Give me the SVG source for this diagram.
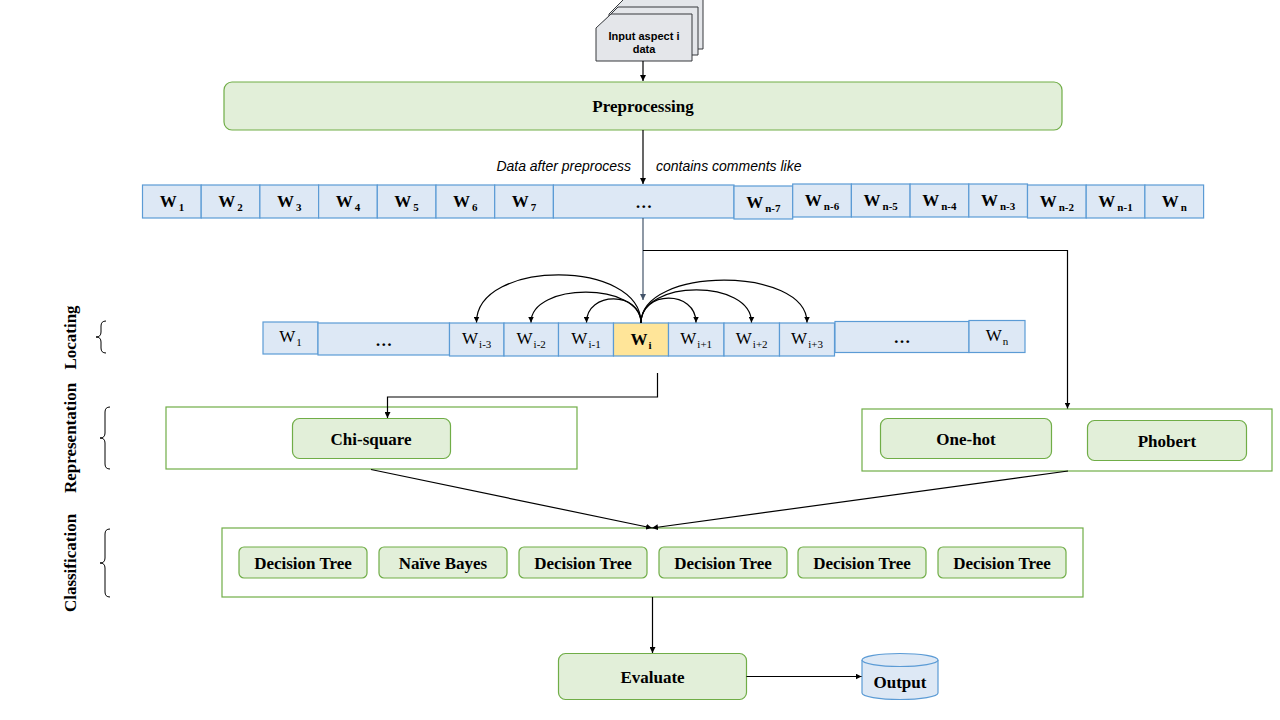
<svg xmlns="http://www.w3.org/2000/svg" width="1280" height="720" viewBox="0 0 1280 720">
<style>
.bg{fill:#ffffff}
.doc{fill:#e4e6ea;stroke:#36393d;stroke-width:1}
.green{fill:#e2efd9;stroke:#70ad47;stroke-width:1.2}
.cont{fill:#ffffff;stroke:#70ad47;stroke-width:1.2}
.cell{fill:#dde8f5;stroke:#5b9bd5;stroke-width:1.2}
.hl{fill:#ffe599;stroke:#5b9bd5;stroke-width:1.2}
.t{font-family:"Liberation Serif","Times New Roman",serif;font-weight:bold;font-size:17px;fill:#000;text-anchor:middle}
.wb{font-family:"Liberation Serif","Times New Roman",serif;font-weight:bold;font-size:17px;fill:#000;text-anchor:middle}
.wn{font-family:"Liberation Serif","Times New Roman",serif;font-weight:normal;font-size:17px;fill:#000;text-anchor:middle}
.sub{font-size:11px}
.it{font-family:"Liberation Sans",Arial,sans-serif;font-style:italic;font-size:14px;fill:#000}
.dt{font-family:"Liberation Sans",Arial,sans-serif;font-weight:bold;font-size:11px;fill:#000;text-anchor:middle}
.lab{font-family:"Liberation Serif","Times New Roman",serif;font-weight:bold;font-size:17px;fill:#000;text-anchor:middle}
.ln{fill:none;stroke:#000;stroke-width:1.2}
.lnb{fill:none;stroke:#44546a;stroke-width:1.2}
.br{fill:none;stroke:#000;stroke-width:1}
</style>
<defs>
<marker id="ah" viewBox="0 0 10 10" refX="10" refY="5" markerWidth="6" markerHeight="6" markerUnits="userSpaceOnUse" orient="auto">
<path d="M0,0 L10,5 L0,10 Z" fill="#000"/>
</marker>
<marker id="ahb" viewBox="0 0 10 10" refX="10" refY="5" markerWidth="6" markerHeight="6" markerUnits="userSpaceOnUse" orient="auto">
<path d="M0,0 L10,5 L0,10 Z" fill="#44546a"/>
</marker>
</defs>
<rect class="bg" x="0" y="0" width="1280" height="720"/>

<g id="input">
<path class="doc" d="M624,-1 L703,-1 L703,49 L609,49 L609,14 Z"/>
<path class="doc" d="M618,7 L698,7 L698,55 L603,55 L603,22 Z"/>
<path class="doc" d="M611,14 L692,14 L692,61 L596,61 L596,28 Z"/>
<text class="dt" x="644" y="40">Input aspect i</text>
<text class="dt" x="644" y="53">data</text>
</g>

<g id="preprocessing">
<rect class="green" x="224" y="82" width="838" height="48" rx="8"/>
<text class="t" x="643" y="112">Preprocessing</text>
</g>

<g id="labels-data">
<text class="it" x="631" y="171" text-anchor="end">Data after preprocess</text>
<text class="it" x="656" y="171">contains comments like</text>
</g>

<g id="word-row">
<rect class="cell" x="142.5" y="185" width="58.7" height="33"/>
<rect class="cell" x="201.2" y="185" width="58.7" height="33"/>
<rect class="cell" x="259.9" y="185" width="58.7" height="33"/>
<rect class="cell" x="318.6" y="185" width="58.7" height="33"/>
<rect class="cell" x="377.3" y="185" width="58.7" height="33"/>
<rect class="cell" x="436" y="185" width="58.7" height="33"/>
<rect class="cell" x="494.7" y="185" width="58.7" height="33"/>
<rect class="cell" x="553.4" y="185" width="180.6" height="33"/>
<rect class="cell" x="734" y="186" width="58.7" height="33"/>
<rect class="cell" x="792.7" y="184" width="58.7" height="33"/>
<rect class="cell" x="851.4" y="184" width="58.7" height="33"/>
<rect class="cell" x="910.1" y="184" width="58.7" height="33"/>
<rect class="cell" x="968.8" y="184" width="58.7" height="33"/>
<rect class="cell" x="1027.5" y="185" width="58.7" height="33"/>
<rect class="cell" x="1086.2" y="185" width="58.7" height="33"/>
<rect class="cell" x="1144.9" y="185" width="58.7" height="33"/>
<text class="wb" x="172" y="207">W<tspan class="sub" dx="2" dy="4">1</tspan></text>
<text class="wb" x="230.5" y="207">W<tspan class="sub" dx="2" dy="4">2</tspan></text>
<text class="wb" x="289.2" y="207">W<tspan class="sub" dx="2" dy="4">3</tspan></text>
<text class="wb" x="347.9" y="207">W<tspan class="sub" dx="2" dy="4">4</tspan></text>
<text class="wb" x="406.6" y="207">W<tspan class="sub" dx="2" dy="4">5</tspan></text>
<text class="wb" x="465.3" y="207">W<tspan class="sub" dx="2" dy="4">6</tspan></text>
<text class="wb" x="524" y="207">W<tspan class="sub" dx="2" dy="4">7</tspan></text>
<text class="wb" x="643.7" y="208">…</text>
<text class="wb" x="763.3" y="208">W<tspan class="sub" dx="2" dy="4">n-7</tspan></text>
<text class="wb" x="822" y="206">W<tspan class="sub" dx="2" dy="4">n-6</tspan></text>
<text class="wb" x="880.7" y="206">W<tspan class="sub" dx="2" dy="4">n-5</tspan></text>
<text class="wb" x="939.4" y="206">W<tspan class="sub" dx="2" dy="4">n-4</tspan></text>
<text class="wb" x="998.1" y="206">W<tspan class="sub" dx="2" dy="4">n-3</tspan></text>
<text class="wb" x="1056.8" y="207">W<tspan class="sub" dx="2" dy="4">n-2</tspan></text>
<text class="wb" x="1115.5" y="207">W<tspan class="sub" dx="2" dy="4">n-1</tspan></text>
<text class="wb" x="1174.2" y="207">W<tspan class="sub" dx="2" dy="4">n</tspan></text>
</g>

<g id="locating-row">
<rect class="cell" x="263" y="322" width="55" height="32"/>
<rect class="cell" x="318" y="323" width="131.5" height="32"/>
<rect class="cell" x="449.5" y="323" width="54.5" height="33"/>
<rect class="cell" x="504" y="323" width="54.5" height="33"/>
<rect class="cell" x="558.5" y="323" width="55" height="33"/>
<rect class="hl" x="613.5" y="323" width="55" height="33"/>
<rect class="cell" x="668.5" y="323" width="55.5" height="33"/>
<rect class="cell" x="724" y="323" width="55.5" height="33"/>
<rect class="cell" x="779.5" y="323" width="55" height="33"/>
<rect class="cell" x="835" y="321.5" width="134" height="31"/>
<rect class="cell" x="969" y="320.5" width="56" height="32"/>
<text class="wn" x="290.5" y="342">W<tspan class="sub" dx="1" dy="4">1</tspan></text>
<text class="wb" x="383.7" y="346">…</text>
<text class="wn" x="476.7" y="344">W<tspan class="sub" dx="1" dy="4">i-3</tspan></text>
<text class="wn" x="531.2" y="344">W<tspan class="sub" dx="1" dy="4">i-2</tspan></text>
<text class="wn" x="586" y="344">W<tspan class="sub" dx="1" dy="4">i-1</tspan></text>
<text class="wb" x="641" y="345">W<tspan class="sub" dx="1" dy="4" font-size="12">i</tspan></text>
<text class="wn" x="696.2" y="344">W<tspan class="sub" dx="1" dy="4">i+1</tspan></text>
<text class="wn" x="751.7" y="344">W<tspan class="sub" dx="1" dy="4">i+2</tspan></text>
<text class="wn" x="807" y="344">W<tspan class="sub" dx="1" dy="4">i+3</tspan></text>
<text class="wb" x="902" y="343">…</text>
<text class="wn" x="997" y="341">W<tspan class="sub" dx="1" dy="4">n</tspan></text>
</g>

<g id="side-labels">
<text class="lab" transform="translate(76,337.5) rotate(-90)">Locating</text>
<text class="lab" transform="translate(76,438) rotate(-90)">Representation</text>
<text class="lab" transform="translate(76,563) rotate(-90)">Classification</text>
<path class="br" d="M106,321 Q101,321 101,326 L101,332 Q101,337 96,337 Q101,337 101,342 L101,348 Q101,353 106,353"/>
<path class="br" d="M110,407 Q105,407 105,412 L105,433 Q105,438 100,438 Q105,438 105,443 L105,464 Q105,469 110,469"/>
<path class="br" d="M110,529 Q105,529 105,534 L105,558 Q105,563 100,563 Q105,563 105,568 L105,592 Q105,597 110,597"/>
</g>

<g id="representation-left">
<rect class="cont" x="166" y="407" width="411" height="62"/>
<g id="chi-square">
<rect class="green" x="292.5" y="418.5" width="158" height="40" rx="7"/>
<text class="t" x="371" y="445">Chi-square</text>
</g>
</g>

<g id="representation-right">
<rect class="cont" x="862" y="409" width="410" height="62"/>
<g id="one-hot">
<rect class="green" x="880.5" y="418.5" width="171" height="40" rx="7"/>
<text class="t" x="966" y="445">One-hot</text>
</g>
<g id="phobert">
<rect class="green" x="1087.5" y="420.5" width="159" height="40" rx="7"/>
<text class="t" x="1167" y="447">Phobert</text>
</g>
</g>

<g id="classification">
<rect class="cont" x="222" y="528" width="861" height="69"/>
<g id="dt1"><rect class="green" x="239" y="547" width="128" height="31" rx="5"/><text class="t" x="303" y="569">Decision Tree</text></g>
<g id="nb"><rect class="green" x="379" y="547" width="128" height="31" rx="5"/><text class="t" x="443" y="569">Naïve Bayes</text></g>
<g id="dt2"><rect class="green" x="519" y="547" width="128" height="31" rx="5"/><text class="t" x="583" y="569">Decision Tree</text></g>
<g id="dt3"><rect class="green" x="659" y="547" width="128" height="31" rx="5"/><text class="t" x="723" y="569">Decision Tree</text></g>
<g id="dt4"><rect class="green" x="798" y="547" width="128" height="31" rx="5"/><text class="t" x="862" y="569">Decision Tree</text></g>
<g id="dt5"><rect class="green" x="938" y="547" width="128" height="31" rx="5"/><text class="t" x="1002" y="569">Decision Tree</text></g>
</g>

<g id="evaluate">
<rect class="green" x="558.5" y="653.5" width="188" height="46" rx="7"/>
<text class="t" x="652.5" y="683">Evaluate</text>
</g>

<g id="output">
<path class="cell" d="M862,660 L862,693 A38,6.5 0 0 0 938,693 L938,660"/>
<ellipse class="cell" cx="900" cy="660" rx="38" ry="6.5"/>
<text class="t" x="900" y="688">Output</text>
</g>

<g id="connectors">
<path class="ln" d="M643,61 L643,81" marker-end="url(#ah)"/>
<path class="ln" d="M643,130 L643,184" marker-end="url(#ah)"/>
<path class="lnb" d="M643,218 L643,300" marker-end="url(#ahb)"/>
<path class="ln" d="M643,250.5 L1067.5,250.5 L1067.5,408.5" marker-end="url(#ah)"/>
<path class="ln" d="M641,323 C641,259 476.5,259 476.5,322.5" marker-end="url(#ah)"/>
<path class="ln" d="M641,323 C641,282 531,282 531,322.5" marker-end="url(#ah)"/>
<path class="ln" d="M641,323 C641,291 586.5,291 586.5,322.5" marker-end="url(#ah)"/>
<path class="ln" d="M641,323 C641,290 696,290 696,322.5" marker-end="url(#ah)"/>
<path class="ln" d="M641,323 C641,279 751.5,279 751.5,322.5" marker-end="url(#ah)"/>
<path class="ln" d="M641,323 C641,266 807,266 807,322.5" marker-end="url(#ah)"/>
<path class="ln" d="M657.5,373 L657.5,397 L387.5,397 L387.5,418" marker-end="url(#ah)"/>
<path class="ln" d="M371,469.5 L652,528" marker-end="url(#ah)"/>
<path class="ln" d="M1068,471 L652,528" marker-end="url(#ah)"/>
<path class="ln" d="M652.5,597 L652.5,653" marker-end="url(#ah)"/>
<path class="ln" d="M746.5,676.5 L861.5,676.5" marker-end="url(#ah)"/>
</g>
</svg>
